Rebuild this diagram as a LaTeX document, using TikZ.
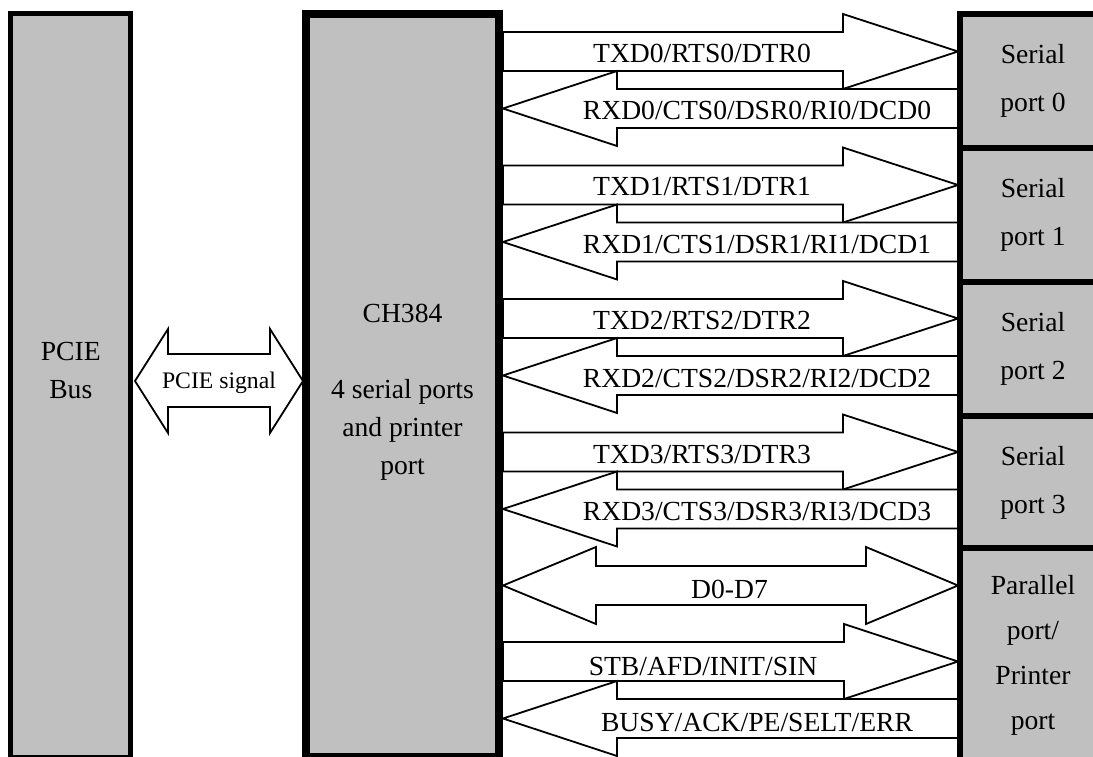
\documentclass[tikz,border=0pt]{standalone}
\usepackage{fontspec}
\setmainfont{Liberation Serif}
\definecolor{boxgray}{RGB}{192,192,192}
\tikzset{
  box/.style={draw=black, fill=boxgray, rectangle, inner sep=0pt, align=center},
  blockarrow/.style={draw=black, fill=white, line width=1.8pt, line join=miter},
  lbl/.style={inner sep=0pt, anchor=base, font=\fontsize{27.6}{33}\selectfont},
  boxtext/.style={inner sep=0pt, align=center}
}
\begin{document}
\begin{tikzpicture}[x=1pt,y=-1pt]
\useasboundingbox (0,0) rectangle (1093,757);
\clip (0,0) rectangle (1093,757);
\fill[white] (0,0) rectangle (1093,757);

% PCIE signal double arrow
\draw[blockarrow] (135,381) -- (168,329) -- (168,354) -- (270,354) -- (270,329) -- (303,381)
  -- (270,433) -- (270,407) -- (168,407) -- (168,433) -- cycle;
\node[lbl, font=\fontsize{23.7}{28}\selectfont] (pciesig) at (219,388) {PCIE signal};

% serial port arrows
\foreach \k/\txt/\rxt in {0/{TXD0/RTS0/DTR0}/{RXD0/CTS0/DSR0/RI0/DCD0},
                          1/{TXD1/RTS1/DTR1}/{RXD1/CTS1/DSR1/RI1/DCD1},
                          2/{TXD2/RTS2/DTR2}/{RXD2/CTS2/DSR2/RI2/DCD2},
                          3/{TXD3/RTS3/DTR3}/{RXD3/CTS3/DSR3/RI3/DCD3}}{
  \pgfmathsetmacro\yo{32+133.5*\k}
  \draw[blockarrow] (503,\yo) -- (843,\yo) -- (843,\yo-18) -- (958,\yo+19.5)
    -- (843,\yo+57) -- (843,\yo+39) -- (503,\yo+39) -- cycle;
  \draw[blockarrow] (503,\yo+76.5) -- (617,\yo+39) -- (617,\yo+57) -- (958,\yo+57)
    -- (958,\yo+96) -- (617,\yo+96) -- (617,\yo+114) -- cycle;
  \node[lbl] (tx\k) at (702,\yo+30.5) {\txt};
  \node[lbl] (rx\k) at (757,\yo+88) {\rxt};
}

% D0-D7 double arrow
\draw[blockarrow] (503,585.5) -- (596,547) -- (596,566) -- (866,566) -- (866,547) -- (958,585.5)
  -- (866,624) -- (866,605) -- (596,605) -- (596,624) -- cycle;
\node[lbl] (data) at (729.5,598) {D0-D7};

% STB arrow
\draw[blockarrow] (503,642) -- (844,642) -- (844,624) -- (958,661.5)
  -- (844,699) -- (844,681) -- (503,681) -- cycle;
\node[lbl] (stb) at (703,675) {STB/AFD/INIT/SIN};
% BUSY arrow
\draw[blockarrow] (503,718.5) -- (617,681) -- (617,699) -- (958,699)
  -- (958,738) -- (617,738) -- (617,756) -- cycle;
\node[lbl] (busy) at (757,731) {BUSY/ACK/PE/SELT/ERR};

% boxes
\node[box, line width=5pt, minimum width=120pt, minimum height=744pt] (pcie) at (70.8,385.5) {};
\node[boxtext, font=\fontsize{27.6}{38}\selectfont] (pcietxt) at (70.8,370) {PCIE\\Bus};

\node[box, line width=8.5pt, minimum width=193pt, minimum height=743pt] (ch) at (402.5,385.5) {};
\node[boxtext, font=\fontsize{27.6}{38}\selectfont] (chtxt) at (402.5,392.7)
  {CH384\\[38pt]4 serial ports\\and printer\\port};

\foreach \k in {0,1,2,3}{
  \pgfmathsetmacro\yc{81+134*\k}
  \node[box, line width=5.5pt, minimum width=146pt, minimum height=134pt,
        font=\fontsize{27.6}{48}\selectfont] (sp\k) at (1033,\yc) {Serial\\port \k};
}
\node[box, line width=5.5pt, minimum width=146pt, minimum height=214pt,
      font=\fontsize{27.6}{45}\selectfont] (pp) at (1033,655) {Parallel\\port/\\Printer\\port};
\end{tikzpicture}
\end{document}
